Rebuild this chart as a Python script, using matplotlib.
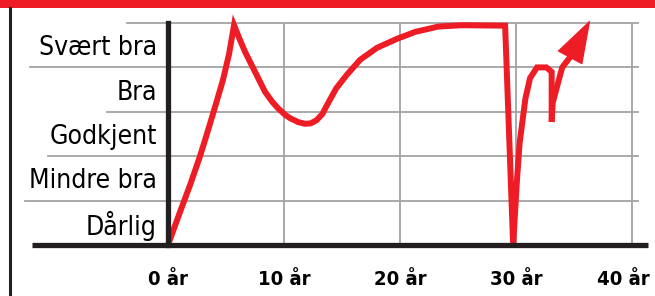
import matplotlib
matplotlib.use("Agg")
import matplotlib.pyplot as plt
from matplotlib.lines import Line2D
from matplotlib.patches import Rectangle
from matplotlib.transforms import ScaledTranslation

# rating over the years (0 = Dårlig ... 5 = top of Svært bra)
years = [0, 1.03, 1.9, 2.76, 3.47, 4.1, 4.74, 5.26, 5.69,
         6.2, 6.64, 7.5, 8.36, 9.0, 9.48, 10.1, 10.5, 11.2, 11.8, 12.3,
         12.8, 13.3, 13.7, 14.5, 15.4, 16.55, 18.0, 19.7, 21.3, 23.3, 25.3,
         29.05,
         29.74, 30.06, 30.3, 30.8, 31.2, 31.8, 32.6, 33.06, 33.06]
rating = [0, 0.74, 1.35, 2.0, 2.6, 3.15, 3.72, 4.3, 4.95,
          4.62, 4.35, 3.9, 3.45, 3.22, 3.08, 2.93, 2.86, 2.77, 2.73, 2.74,
          2.81, 2.95, 3.15, 3.53, 3.83, 4.17, 4.44, 4.64, 4.8, 4.92, 4.95,
          4.94,
          0.0, 1.42, 2.3, 3.3, 3.76, 4.0, 4.0, 3.9, 2.77]

# the upward arrow at the end
arrow_years = [33.06, 33.15, 33.4, 33.97, 34.7, 36.4]
arrow_rating = [2.77, 3.2, 3.45, 4.0, 4.25, 5.07]

levels = ["Dårlig", "Mindre bra", "Godkjent", "Bra", "Svært bra"]
xticks = [0, 10, 20, 30, 40]
xlabels = ["0 år", "10 år", "20 år", "30 år", "40 år"]

RED = "#ee1c25"
GRID = "#a3a3a3"
INK = "#231f20"


def main():
    fig = plt.figure(figsize=(6.55, 2.96), dpi=100)
    ax = fig.add_axes([168 / 655, 51 / 296, 470 / 655, 222 / 296])
    ax.set_xlim(0, 40.5)
    ax.set_ylim(0, 5)

    # grid: horizontal lines reach out behind the labels
    grid_left = [-0.304, -0.255, -0.130, -0.294, -0.087]
    for lvl, left in zip(range(1, 6), grid_left):
        ax.plot([left, 1.0], [lvl, lvl], color=GRID, lw=1.3,
                transform=ax.get_yaxis_transform(), clip_on=False, zorder=1)
    for x in xticks[1:]:
        ax.plot([x, x], [0, 5], color=GRID, lw=1.3, zorder=1)

    ax.plot(years, rating, color=RED, lw=4.3, solid_joinstyle="miter",
            solid_capstyle="butt", clip_on=False, zorder=3)
    ax.plot(arrow_years[:-1], arrow_rating[:-1], color=RED, lw=4.3,
            solid_capstyle="butt", solid_joinstyle="round", clip_on=False,
            zorder=3)
    ax.annotate("", xy=(arrow_years[-1], arrow_rating[-1]),
                xytext=(arrow_years[-2], arrow_rating[-2]),
                arrowprops=dict(arrowstyle="-|>,head_length=2.9,head_width=0.95",
                                mutation_scale=10, color=RED, lw=1,
                                shrinkA=0, shrinkB=0),
                annotation_clip=False, zorder=3)

    for side in ["top", "right", "bottom"]:
        ax.spines[side].set_visible(False)
    ax.spines["left"].set_linewidth(3.8)
    ax.spines["left"].set_color(INK)
    ax.spines["left"].set_zorder(4)
    # x axis line runs past the y axis to the left
    ax.plot([-0.289, 1.021], [0, 0], color=INK, lw=3.8,
            transform=ax.get_yaxis_transform(), clip_on=False,
            solid_capstyle="butt", zorder=4)

    ax.set_yticks([i + 0.5 for i in range(5)])
    ax.set_yticklabels(levels, family="DejaVu Sans", fontstretch="condensed",
                       fontsize=19, color="black")
    ax.set_xticks(xticks)
    ax.set_xticklabels(xlabels, family="DejaVu Sans", fontstretch="condensed",
                       fontsize=14.5, fontweight="bold", color="black")
    ax.tick_params(axis="y", length=0, pad=8)
    ax.tick_params(axis="x", length=0, pad=18)
    # last label is nudged left so it stays inside the picture
    last = ax.get_xticklabels()[-1]
    last.set_transform(last.get_transform()
                       + ScaledTranslation(-6 / 72, 0, fig.dpi_scale_trans))

    # frame: red bar on top, black rule down the left edge
    fig.add_artist(Rectangle((0, 288 / 296), 1, 8 / 296, color=RED,
                             transform=fig.transFigure, lw=0))
    fig.add_artist(Line2D([10 / 655, 10 / 655], [0, 288 / 296], color=INK,
                          lw=2.2, transform=fig.transFigure))

    fig.savefig("out.png", dpi=100)


if __name__ == "__main__":
    main()
